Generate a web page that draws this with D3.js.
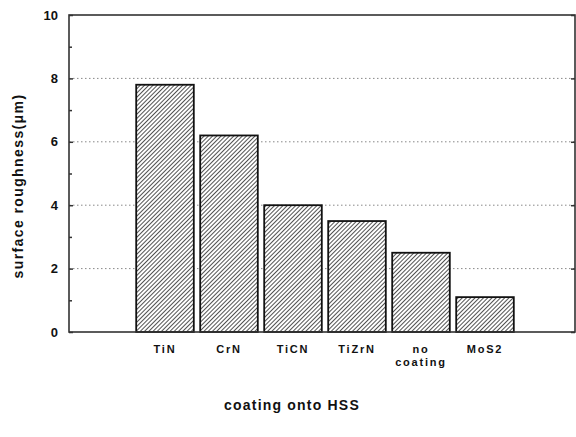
<!DOCTYPE html>
<html>
<head>
<meta charset="utf-8">
<script src="https://cdn.jsdelivr.net/npm/d3@7"></script>
<style>
  body { margin: 0; background: #fff; }
  text { font-family: "Liberation Sans", Arial, sans-serif; font-weight: bold; fill: #111; }
</style>
</head>
<body>
<div id="container"></div>
<script>
// data
var coatings = ["TiN", "CrN", "TiCN", "TiZrN", "no coating", "MoS2"];
var roughness = [7.8, 6.2, 4.0, 3.5, 2.5, 1.1];
var yTicks = [0, 2, 4, 6, 8, 10];
var yMinorTicks = [1, 3, 5, 7, 9];

var width = 576, height = 437;
var plot_left = 69, plot_right = 575, plot_top = 15, plot_bottom = 332;

var svg = d3.select("div#container")
  .append("svg")
  .attr("width", width)
  .attr("height", height);

// hatch pattern for the bars
var hatch_step = 3;
var defs = svg.append("defs");
var pat = defs.append("pattern")
  .attr("id", "hatch")
  .attr("patternUnits", "userSpaceOnUse")
  .attr("width", hatch_step)
  .attr("height", hatch_step)
  .attr("patternTransform", "rotate(45)");
pat.append("rect").attr("width", hatch_step).attr("height", hatch_step).attr("fill", "#fff");
pat.append("line")
  .attr("x1", 0).attr("y1", 0).attr("x2", 0).attr("y2", hatch_step)
  .attr("stroke", "#333").attr("stroke-width", 1.7);

var y = d3.scaleLinear().domain([0, 10]).range([plot_bottom, plot_top]);
var x = d3.scaleBand().domain(coatings)
  .range([133, 517])
  .paddingInner(0.1)
  .paddingOuter(0.05);

// dotted gridlines
svg.append("g").selectAll("line")
  .data(yTicks.filter(function(d) { return d > 0 && d < 10; }))
  .enter().append("line")
  .attr("x1", plot_left).attr("x2", plot_right)
  .attr("y1", function(d) { return y(d); })
  .attr("y2", function(d) { return y(d); })
  .attr("stroke", "#888")
  .attr("stroke-width", 1)
  .attr("stroke-dasharray", "1.5,2.5");

// bars
svg.append("g").selectAll("rect")
  .data(roughness)
  .enter().append("rect")
  .attr("x", function(d, i) { return x(coatings[i]); })
  .attr("y", function(d) { return y(d); })
  .attr("width", x.bandwidth())
  .attr("height", function(d) { return y(0) - y(d); })
  .attr("fill", "url(#hatch)")
  .attr("stroke", "#111")
  .attr("stroke-width", 1.8);

// frame
svg.append("rect")
  .attr("x", plot_left).attr("y", plot_top)
  .attr("width", plot_right - plot_left)
  .attr("height", plot_bottom - plot_top)
  .attr("fill", "none")
  .attr("stroke", "#333")
  .attr("stroke-width", 1.6);

// left axis: inward ticks
var leftAxis = d3.axisRight(y).tickValues(yTicks).tickSize(4).tickFormat("");
svg.append("g").attr("transform", "translate(" + plot_left + ",0)")
  .call(leftAxis).call(function(g) { g.select(".domain").remove(); });
var leftMinor = d3.axisRight(y).tickValues(yMinorTicks).tickSize(3).tickFormat("");
svg.append("g").attr("transform", "translate(" + plot_left + ",0)")
  .call(leftMinor).call(function(g) { g.select(".domain").remove(); });

// right axis: inward ticks
var rightAxis = d3.axisLeft(y).tickValues(yTicks).tickSize(4).tickFormat("");
svg.append("g").attr("transform", "translate(" + plot_right + ",0)")
  .call(rightAxis).call(function(g) { g.select(".domain").remove(); });

svg.selectAll(".tick line").attr("stroke", "#333").attr("stroke-width", 1.5);

// y tick labels
svg.append("g").selectAll("text")
  .data(yTicks)
  .enter().append("text")
  .attr("x", 58)
  .attr("y", function(d) { return y(d); })
  .attr("dy", "0.35em")
  .attr("text-anchor", "end")
  .style("font-size", "13px")
  .text(function(d) { return d; });

// x category labels
var xl = svg.append("g").selectAll("text")
  .data(coatings)
  .enter().append("text")
  .attr("x", function(d) { return x(d) + x.bandwidth() / 2; })
  .attr("y", 353)
  .attr("text-anchor", "middle")
  .style("font-size", "11px")
  .style("letter-spacing", "1.8px");
xl.each(function(d) {
  var parts = d.split(" ");
  var t = d3.select(this);
  parts.forEach(function(p, i) {
    t.append("tspan")
      .attr("x", x(d) + x.bandwidth() / 2)
      .attr("dy", i === 0 ? 0 : "1.2em")
      .text(p);
  });
});

// axis titles
svg.append("text")
  .attr("transform", "translate(23,186) rotate(-90)")
  .attr("text-anchor", "middle")
  .style("font-size", "14px")
  .style("letter-spacing", "1.4px")
  .text("surface roughness(μm)");

svg.append("text")
  .attr("x", 292)
  .attr("y", 410)
  .attr("text-anchor", "middle")
  .style("font-size", "14px")
  .style("letter-spacing", "1.2px")
  .text("coating onto HSS");
</script>
</body>
</html>
